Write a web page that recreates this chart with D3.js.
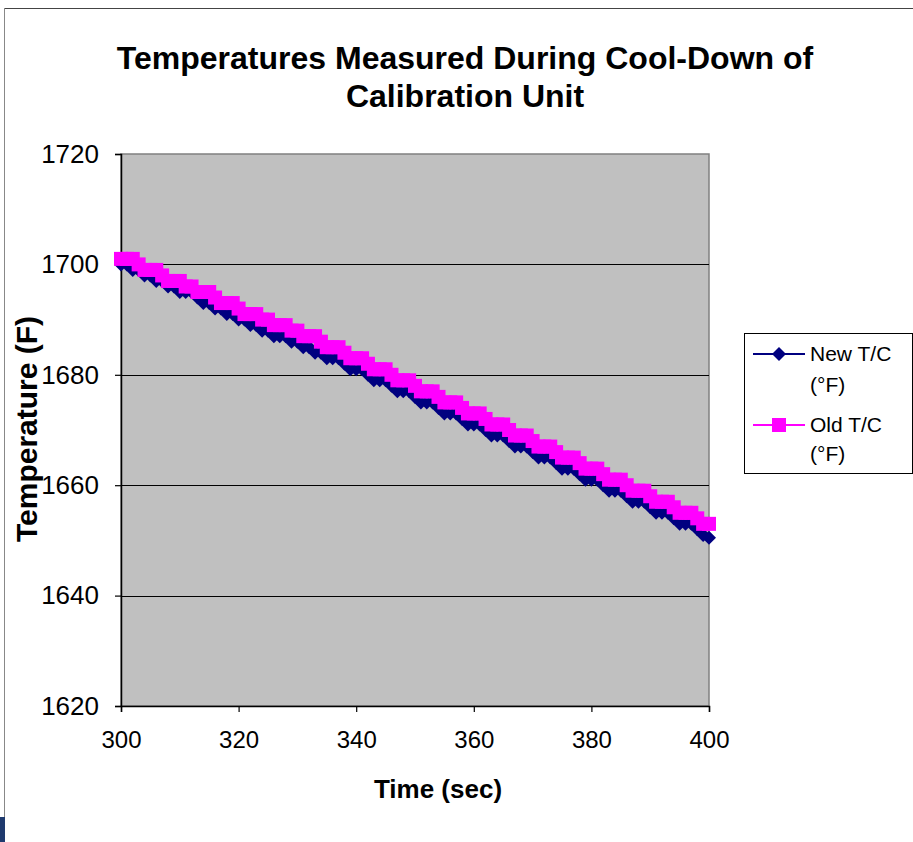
<!DOCTYPE html>
<html><head><meta charset="utf-8">
<script src="https://cdn.jsdelivr.net/npm/d3@7"></script>
<style>body{margin:0;background:#fff} svg{display:block} text{font-family:Arial,"Liberation Sans",sans-serif}</style>
</head><body>
<script>
const times = [300,301,302,303,304,305,306,307,308,309,310,311,312,313,314,315,316,317,318,319,320,321,322,323,324,325,326,327,328,329,330,331,332,333,334,335,336,337,338,339,340,341,342,343,344,345,346,347,348,349,350,351,352,353,354,355,356,357,358,359,360,361,362,363,364,365,366,367,368,369,370,371,372,373,374,375,376,377,378,379,380,381,382,383,384,385,386,387,388,389,390,391,392,393,394,395,396,397,398,399,400];
const newTC = [1700,1700,1699,1699,1698,1698,1697,1697,1696,1696,1695,1695,1695,1694,1693,1693,1692,1692,1691,1691,1690,1690,1689,1689,1688,1688,1687,1687,1687,1686,1686,1685,1685,1684,1684,1683,1683,1683,1682,1681,1681,1681,1680,1679,1679,1679,1678,1677,1677,1677,1676,1675,1675,1675,1674,1673,1673,1673,1672,1671,1671,1671,1670,1669,1669,1669,1668,1667,1667,1667,1666,1665,1665,1665,1664,1663,1663,1663,1662,1661,1661,1661,1660,1659,1659,1659,1658,1657,1657,1657,1656,1655,1655,1655,1654,1653,1653,1653,1652,1651,1650.5];
const oldTC = [1701,1701,1701,1700,1699,1699,1699,1698,1697,1697,1697,1696,1696,1695,1695,1695,1694,1693,1693,1693,1692,1691,1691,1691,1690,1690,1689,1689,1689,1688,1688,1687,1687,1687,1686,1685,1685,1685,1684,1683,1683,1683,1682,1681,1681,1681,1680,1679,1679,1679,1678,1677,1677,1677,1676,1675,1675,1675,1674,1673,1673,1673,1672,1671,1671,1671,1670,1669,1669,1669,1668,1667,1667,1667,1666,1665,1665,1665,1664,1663,1663,1663,1662,1661,1661,1661,1660,1659,1659,1659,1658,1657,1657,1657,1656,1655,1655,1655,1654,1653,1653];
const xTicks = [300,320,340,360,380,400];
const yTicks = [1620,1640,1660,1680,1700,1720];
const seriesNames = ["New T/C", "Old T/C"];
const seriesUnits = ["(°F)", "(°F)"];
const titleLines = ["Temperatures Measured During Cool-Down of", "Calibration Unit"];
const xTitle = "Time (sec)";
const yTitle = "Temperature (F)";

const W = 913, H = 842;
const P = {left:121, right:709, top:154, bottom:706};
const svg = d3.select("body").append("svg").attr("width", W).attr("height", H);

// frame
svg.append("line").attr("x1",4).attr("x2",W).attr("y1",8.5).attr("y2",8.5).attr("stroke","#444");
svg.append("line").attr("x1",4.5).attr("x2",4.5).attr("y1",8).attr("y2",817).attr("stroke","#888");
svg.append("rect").attr("x",0).attr("y",817).attr("width",5).attr("height",25).attr("fill","#1f3a6e");

const x = d3.scaleLinear().domain([300,400]).range([P.left,P.right]);
const y = d3.scaleLinear().domain([1620,1720]).range([P.bottom,P.top]);

// plot area
svg.append("rect").attr("x",P.left).attr("y",P.top).attr("width",P.right-P.left).attr("height",P.bottom-P.top)
  .attr("fill","#C0C0C0").attr("stroke","#808080").attr("stroke-width",1.5);

// gridlines
svg.append("g").selectAll("line").data(yTicks.filter(v=>v>1620 && v<1720)).join("line")
  .attr("x1",P.left).attr("x2",P.right).attr("y1",d=>Math.round(y(d))+0.5).attr("y2",d=>Math.round(y(d))+0.5)
  .attr("stroke","#000").attr("stroke-width",1);

// axes
const gx = svg.append("g").attr("transform",`translate(0,${P.bottom})`)
  .call(d3.axisBottom(x).tickValues(xTicks).tickSize(6).tickPadding(19).tickFormat(d3.format("d")));
const gy = svg.append("g").attr("transform",`translate(${P.left},0)`)
  .call(d3.axisLeft(y).tickValues(yTicks).tickSize(6).tickPadding(16).tickFormat(d3.format("d")));
[gx,gy].forEach(g=>{
  g.select(".domain").attr("stroke","#000").attr("stroke-width",1.5);
  g.selectAll(".tick line").attr("stroke","#000").attr("stroke-width",1.2);
  g.selectAll("text").attr("fill","#000").style("font-family","Arial, 'Liberation Sans', sans-serif");
});
gx.selectAll("text").attr("font-size",24);
gy.selectAll("text").attr("font-size",26);

// series
const line = d3.line().x((d,i)=>x(times[i])).y(d=>y(d));
const diamond = "M0,-7L7,0L0,7L-7,0Z";
const square = "M-7,-7H7V7H-7Z";
const series = [
  {vals:newTC, color:"#000080", marker:diamond},
  {vals:oldTC, color:"#FF00FF", marker:square}
];
series.forEach(s=>{
  svg.append("path").datum(s.vals).attr("d",line).attr("fill","none").attr("stroke",s.color).attr("stroke-width",2);
  svg.append("g").selectAll("path").data(s.vals).join("path")
    .attr("transform",(d,i)=>`translate(${x(times[i])},${y(d)})`)
    .attr("d",s.marker).attr("fill",s.color);
});

// title
svg.append("text").attr("x",465).attr("y",69).attr("text-anchor","middle").attr("font-size",32).attr("font-weight","bold").text(titleLines[0]);
svg.append("text").attr("x",465).attr("y",107).attr("text-anchor","middle").attr("font-size",32).attr("font-weight","bold").text(titleLines[1]);

// axis titles
svg.append("text").attr("x",438).attr("y",798).attr("text-anchor","middle").attr("font-size",26).attr("font-weight","bold").text(xTitle);
svg.append("text").attr("transform","translate(37,429) rotate(-90)").attr("text-anchor","middle").attr("font-size",30).attr("font-weight","bold").text(yTitle);

// legend
const lg = svg.append("g");
lg.append("rect").attr("x",744.5).attr("y",333.5).attr("width",168).attr("height",140).attr("fill","#fff").attr("stroke","#000");
const legY = [354, 425];
const legText = [[361,392],[432,461]];
series.forEach((s,i)=>{
  lg.append("line").attr("x1",753).attr("x2",805).attr("y1",legY[i]).attr("y2",legY[i]).attr("stroke",s.color).attr("stroke-width",2);
  lg.append("path").attr("transform",`translate(779,${legY[i]})`).attr("d",s.marker).attr("fill",s.color);
  lg.append("text").attr("x",810).attr("y",legText[i][0]).attr("font-size",21).text(seriesNames[i]);
  lg.append("text").attr("x",810).attr("y",legText[i][1]).attr("font-size",21).text(seriesUnits[i]);
});
</script>
</body></html>
